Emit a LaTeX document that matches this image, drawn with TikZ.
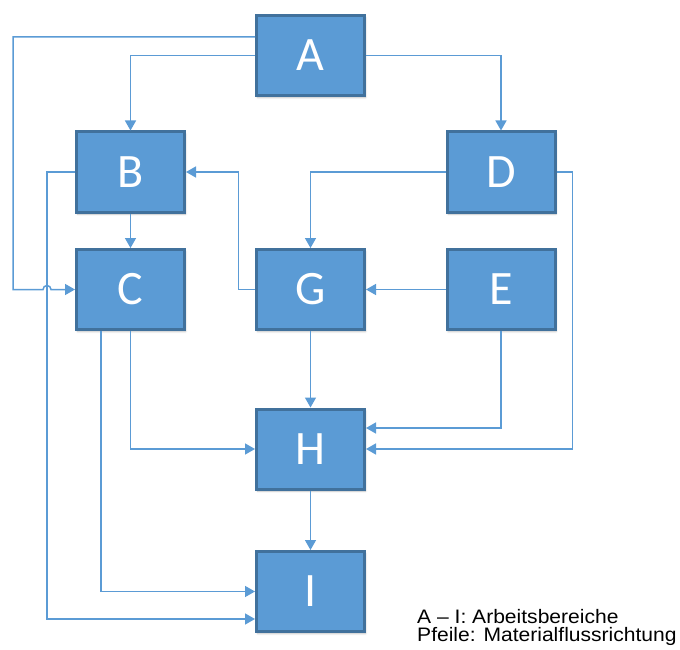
\documentclass[tikz,border=0pt]{standalone}
\usepackage{fontspec}
\setmainfont{Liberation Sans}
\newfontfamily\boxfont{Carlito}
\usetikzlibrary{arrows.meta,shadows.blur}
\definecolor{boxfill}{HTML}{5B9BD5}
\definecolor{boxedge}{HTML}{41719C}
\definecolor{flow}{HTML}{5B9BD5}
\begin{document}
\begin{tikzpicture}[x=1pt,y=-1pt,
  area/.style={draw=boxedge, fill=boxfill, line width=3pt,
    minimum width=108pt, minimum height=80pt, inner sep=0pt,
    text=white, font=\boxfont\fontsize{48}{48}\selectfont,
    blur shadow={shadow xshift=1pt, shadow yshift=-2pt,
      shadow blur steps=6, shadow opacity=25}},
  flowline/.style={draw=flow, line width=1.5pt},
  flowarrow/.style={flowline, -{Triangle[length=10pt,width=11pt]}},
  caption/.style={anchor=base west, inner sep=0pt,
    font=\fontsize{19.5}{19.5}\selectfont}]
\useasboundingbox (0,0) rectangle (680,650);

% work areas
\node[area] (A) at (310.5,55.5)  {A};
\node[area] (B) at (130.5,172)   {B};
\node[area] (C) at (130.5,289.5) {C};
\node[area] (G) at (310.5,289.5) {G};
\node[area] (D) at (501,172)     {D};
\node[area] (E) at (501,289.5)   {E};
\node[area] (H) at (310.5,449)   {H};
\node[area] (I) at (310.5,591.5) {I};

% route points of the long outer loops
\coordinate (outerTop) at (13,37);
\coordinate (outerBot) at (13,289.5);
\coordinate (hopIn)    at (43,289.5);

% material flows
\draw[flowarrow] ([yshift=18.5pt]A.west) -- (outerTop) -- (outerBot) -- (hopIn)
  arc[start angle=180,end angle=0,radius=4pt] -- (C.west);
\draw[flowarrow] (A.west) -| (B.north);
\draw[flowarrow] (A.east) -| (D.north);
\draw[flowarrow] (B.south) -- (C.north);
\draw[flowarrow] (B.west) -- ++(-28,0) |- ([yshift=-27.5pt]I.west);
\draw[flowarrow] ([xshift=-29.5pt]C.south) |- (I.west);
\draw[flowarrow] (C.south) |- (H.west);
\draw[flowarrow] (G.west) -- ++(-16.5,0) |- (B.east);
\draw[flowarrow] (D.west) -| (G.north);
\draw[flowarrow] (E.west) -- (G.east);
\draw[flowarrow] (G.south) -- (H.north);
\draw[flowarrow] (E.south) |- ([yshift=21pt]H.east);
\draw[flowarrow] (D.east) -- ++(16,0) |- (H.east);
\draw[flowarrow] (H.south) -- (I.north);

% legend
\node[caption] (k1) at (417,623.3) {\scalebox{1.08}[1]{A – I: Arbeitsbereiche}};
\node[caption] (k2) at (417,641.5) {\scalebox{1.08}[1]{Pfeile: Materialflussrichtung}};
\end{tikzpicture}
\end{document}
